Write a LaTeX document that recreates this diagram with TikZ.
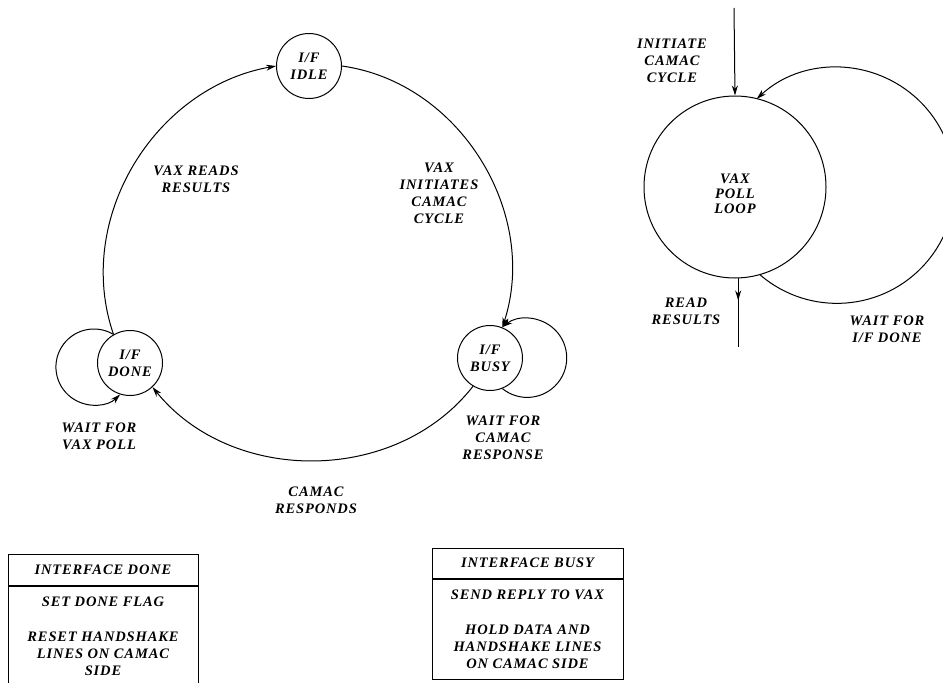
\documentclass[tikz,border=0pt]{standalone}
\usepackage{fontspec}
\setmainfont{Liberation Serif}[LetterSpace=6]
\usetikzlibrary{arrows.meta}
\begin{document}
\begin{tikzpicture}[x=1pt,y=1pt,
  txt/.style={font=\fontsize{14.5}{17}\selectfont\bfseries\itshape},
  lbl/.style={txt, align=center, inner sep=0pt},
  state/.style={circle, draw, line width=1pt, minimum size=65pt, inner sep=0pt, txt, align=center},
  conn/.style={line width=1pt, -{Stealth[length=10pt,width=6pt]}},
  plain/.style={line width=1pt},
  hdr/.style={draw, line width=1pt, txt, minimum height=31pt, inner sep=0pt},
  body/.style={draw, line width=1pt, txt, align=center, inner sep=0pt, anchor=north},
]
\useasboundingbox (0,0) rectangle (943,-683);
\clip (0,0) rectangle (943,-683);

% states of the interface
\node[state] (idle) at (309,-66) {I/F\\IDLE};
\node[state] (done) at (130,-363) {I/F\\DONE};
\node[state] (busy) at (490,-358) {I/F\\BUSY};

\draw[conn] (done.120) to[out=109,in=190] (idle.west);
\draw[conn] (idle.east) to[out=-8,in=72] (busy.68);
\draw[conn] (busy.239) to[out=232,in=-51] (done.-47);

% self loops
\draw[conn] (done.120) arc[start angle=59, end angle=313.6, radius=38];
\draw[conn] (busy.-68) arc[start angle=231, end angle=489, radius=39.5];

% labels
\node[lbl] (vaxreads) at (196,-179) {VAX READS\\RESULTS};
\node[lbl] (vaxinit) at (439,-193) {VAX\\INITIATES\\CAMAC\\CYCLE};
\node[lbl] (waitvax) at (99,-436) {WAIT FOR\\VAX POLL};
\node[lbl] (waitcamac) at (503,-438) {WAIT FOR\\CAMAC\\RESPONSE};
\node[lbl] (camresp) at (316,-500) {CAMAC\\RESPONDS};

% VAX poll loop
\node[circle, draw, line width=1pt, minimum size=182pt, inner sep=0pt, font=\fontsize{14.5}{15}\selectfont\bfseries\itshape] (poll) at (735,-187)
  {\raisebox{-12pt}[0pt][0pt]{\begin{tabular}{@{}c@{}}VAX\\POLL\\LOOP\end{tabular}}};
\coordinate (pin) at (734,-8);
\coordinate (pout) at (738,-347);
\draw[conn] (pin) -- (poll.north);
\draw[plain] (poll.272) -- (poll.272 |- pout);
\draw[conn] (poll.272) -- ++(0,-22);
\draw[conn] (poll.-74) arc[start angle=229.4, end angle=492.9, radius=118];

\node[lbl] (initcam) at (672,-61) {INITIATE\\CAMAC\\CYCLE};
\node[lbl] (readres) at (686,-311) {READ\\RESULTS};
\node[lbl] (waitif) at (887,-329) {WAIT FOR\\I/F DONE};

% tables
\node[hdr, minimum width=190pt] (ldh) at (103,-569.5) {INTERFACE DONE};
\node[body, minimum width=190pt, minimum height=100pt] (ldb) at (ldh.south)
  {SET DONE FLAG\\[18pt]RESET HANDSHAKE\\LINES ON CAMAC\\SIDE};

\node[hdr, minimum width=191pt, minimum height=30pt] (rbh) at (527.5,-563) {INTERFACE BUSY};
\node[body, minimum width=191pt, minimum height=100pt] (rbb) at (rbh.south)
  {SEND REPLY TO VAX\\[18pt]HOLD DATA AND\\HANDSHAKE LINES\\ON CAMAC SIDE};
\end{tikzpicture}
\end{document}
